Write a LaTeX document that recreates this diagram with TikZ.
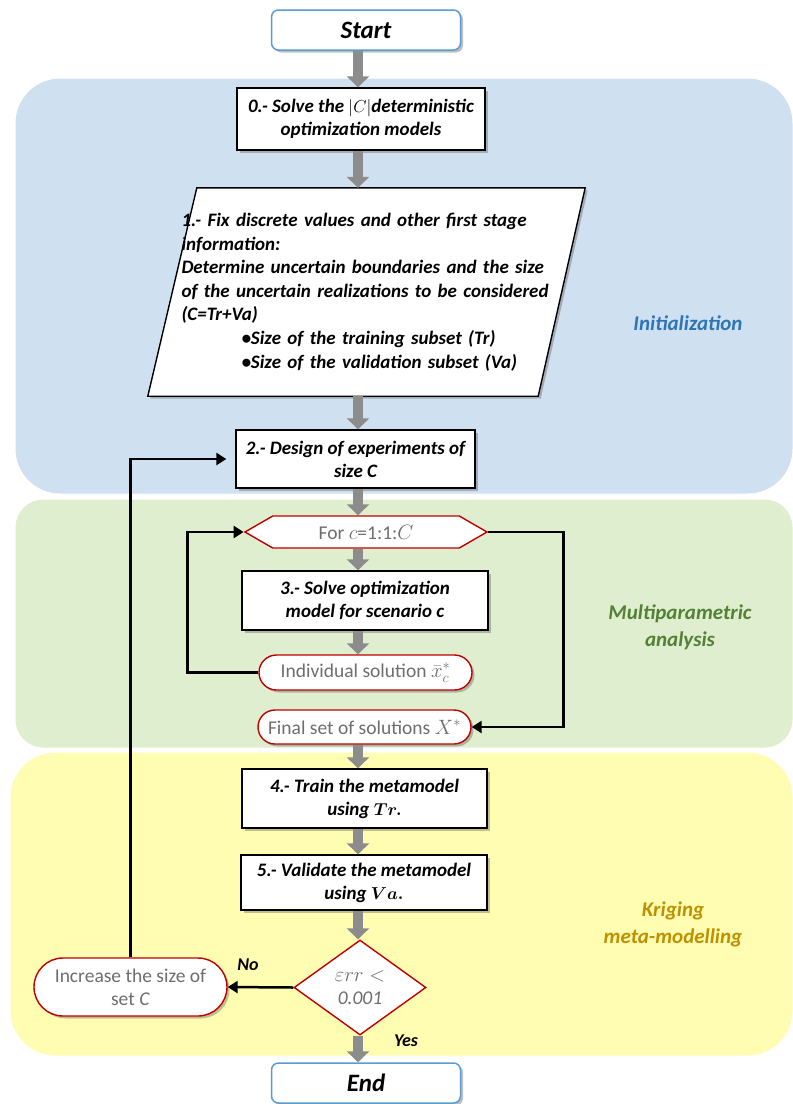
\documentclass[tikz,border=0pt]{standalone}
\usepackage{amsmath}
\usepackage{fontspec}
\setmainfont{Carlito}
\usetikzlibrary{arrows.meta,positioning,shapes.geometric,shapes.misc,shapes.symbols,shadows}

\definecolor{initblue}{RGB}{207,224,241}
\definecolor{multigreen}{RGB}{223,238,207}
\definecolor{krigyellow}{RGB}{255,253,178}
\definecolor{startblue}{RGB}{91,155,213}
\definecolor{darkred}{RGB}{192,0,0}
\definecolor{greytext}{RGB}{110,110,110}
\definecolor{arrowgrey}{RGB}{140,140,140}
\definecolor{labelblue}{RGB}{46,117,182}
\definecolor{labelgreen}{RGB}{83,129,53}
\definecolor{labelgold}{RGB}{191,144,0}

\pgfdeclarelayer{background}
\pgfsetlayers{background,main}

\tikzset{
  shade/.style={drop shadow={shadow xshift=2.5pt,shadow yshift=-2.5pt,opacity=.35,fill=black!70}},
  region/.style={draw=white,line width=1pt,rounded corners=45pt},
  termbox/.style={rectangle,rounded corners=7pt,draw=startblue,line width=1.5pt,fill=white,shade,
    minimum width=189pt,minimum height=40pt,font=\bfseries\itshape\fontsize{25}{28}\selectfont},
  stepbox/.style={rectangle,draw=black,line width=1.4pt,fill=white,shade,align=center,
    inner sep=2pt,font=\bfseries\itshape\fontsize{19}{23}\selectfont},
  redbox/.style={draw=darkred,line width=1.4pt,fill=white,text=greytext,align=center,
    inner sep=1pt,font=\fontsize{19.5}{23}\selectfont},
  bubble/.style={redbox,rounded rectangle,shade},
  grey/.style={line width=10pt,draw=arrowgrey,-{Triangle[width=22pt,length=11pt]}},
  flow/.style={line width=2.5pt,-{Triangle[width=12pt,length=10pt]}},
  tag/.style={font=\bfseries\itshape\fontsize{18}{20}\selectfont},
  phase/.style={align=center,font=\bfseries\itshape\fontsize{21}{27}\selectfont}
}

\begin{document}
\begin{tikzpicture}[x=1pt,y=-1pt]
\useasboundingbox (0,0) rectangle (793,1104);

% phases
\begin{pgfonlayer}{background}
  \fill[white] (0,0) rectangle (793,1104);
  \draw[region,fill=initblue] (15,78) rectangle (793,494);
  \draw[region,fill=multigreen,rounded corners=28pt] (15,499) rectangle (793,748);
  \draw[region,fill=krigyellow] (10,752) rectangle (793,1056);
\end{pgfonlayer}

\node[phase,text=labelblue] (pinit) at (688,323) {Initialization};
\node[phase,text=labelgreen] (pmulti) at (680,627) {Multiparametric\\analysis};
\node[phase,text=labelgold] (pkrig) at (673,924) {Kriging\\meta-modelling};

% main column
\coordinate (axis) at (358,0);
\node[termbox] (start) at (366,30) {Start};
\node[stepbox,minimum width=248pt,minimum height=62pt] (s0) at (361,119)
  {0.- Solve the $|C|$deterministic\\optimization models};
\node[align=left,text width=378pt,minimum width=437pt,minimum height=208pt,inner sep=0pt,
  font=\bfseries\itshape\fontsize{19}{23.6}\selectfont] (s1) at (370.5,292)
  {1.- Fix discrete values and other first stage\\
   information:\\
   Determine uncertain boundaries and the size\\
   of the uncertain realizations to be considered\\
   (C=Tr+Va)\\
   \hspace*{60pt}\textbullet Size of the training subset (Tr)\\
   \hspace*{60pt}\textbullet Size of the validation subset (Va)};
\begin{pgfonlayer}{background}
  \draw[line width=1.4pt,fill=white,shade] ([xshift=45pt]s1.north west) -- ([xshift=-4pt]s1.north east)
    -- ([xshift=-51pt]s1.south east) -- ([xshift=-4pt]s1.south west) -- cycle;
\end{pgfonlayer}
\node[stepbox,minimum width=239pt,minimum height=58pt] (s2) at (355.5,459)
  {2.- Design of experiments of\\size C};
\node[redbox,signal,signal to=east and west,signal pointer angle=60,
  minimum width=242pt,minimum height=32pt] (loop) at (366,532) {For $c$=1:1:$C$};
\node[stepbox,minimum width=246pt,minimum height=59pt] (s3) at (365,600.5)
  {3.- Solve optimization\\model for scenario c};
\node[bubble,minimum width=215pt,minimum height=35pt] (indiv) at (365.5,672.5)
  {Individual solution $\bar{x}_c^*$};
\node[bubble,minimum width=215pt,minimum height=34pt] (final) at (364.5,727)
  {Final set of solutions $X^*$};
\node[stepbox,minimum width=245pt,minimum height=59pt] (s4) at (364.5,798.5)
  {4.- Train the metamodel\\using $\boldsymbol{Tr.}$};
\node[stepbox,minimum width=246pt,minimum height=55pt] (s5) at (364,882.5)
  {5.- Validate the metamodel\\using $\boldsymbol{Va.}$};
\node[redbox,diamond,minimum width=132pt,minimum height=95pt,inner sep=0pt,
  font=\itshape\fontsize{19.5}{23}\selectfont] (test) at (360,987.5)
  {$\varepsilon rr<$\\0.001};
\node[bubble,minimum width=195pt,minimum height=58pt] (inc) at (130.5,987)
  {Increase the size of\\set \textit{C}};
\node[termbox] (end) at (366,1083) {End};

% grey block arrows
\foreach \a/\b in {start/s0,s0/s1,s1/s2,s2/loop,loop/s3,s3/indiv,final/s4,s4/s5,s5/test,test/end}
  \draw[grey] (\a.south -| axis) -- (\b.north -| axis);

% loops
\draw[flow] (indiv.west) -- ++(-71,0) |- (loop.west);
\draw[flow] (loop.east) -- ++(75,0) |- (final.east);
\draw[flow] (test.west) -- (inc.east);
\draw[flow,shorten >=9pt] (inc.north) |- (s2.west);

\node[tag] (no) at (248,965) {No};
\node[tag] (yes) at (406,1041) {Yes};
\end{tikzpicture}
\end{document}
